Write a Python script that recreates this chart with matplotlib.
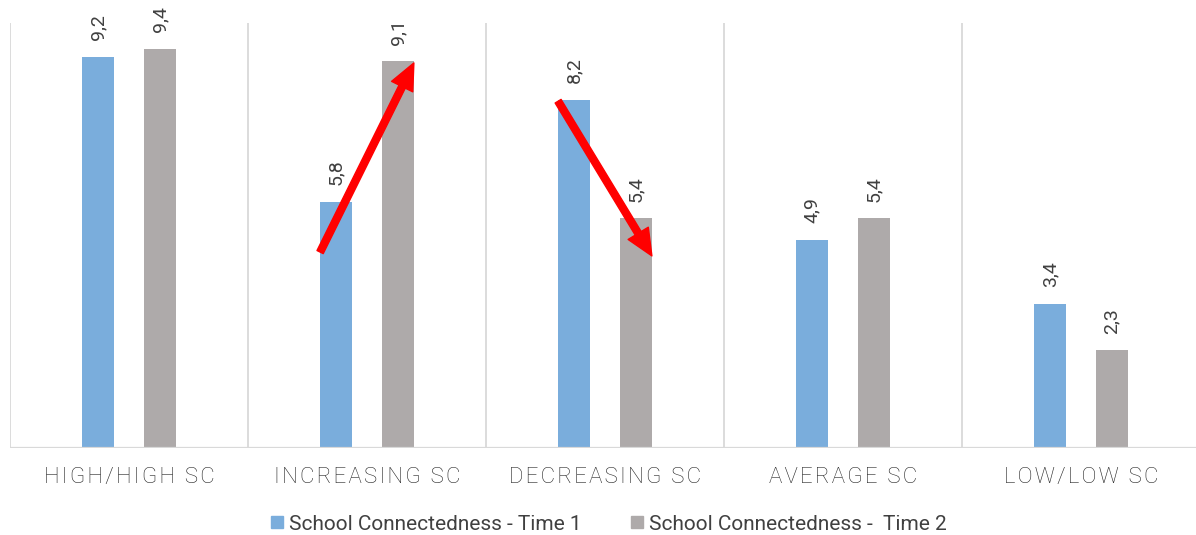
import matplotlib
matplotlib.use("Agg")
import matplotlib.pyplot as plt
import numpy as np
from matplotlib.patches import Patch, FancyArrowPatch, ArrowStyle

plt.rcParams['font.family'] = ['Roboto', 'DejaVu Sans']

# Data
categories = ["HIGH/HIGH SC", "INCREASING SC", "DECREASING SC", "AVERAGE SC", "LOW/LOW SC"]
time1 = [9.2, 5.8, 8.2, 4.9, 3.4]
time2 = [9.4, 9.1, 5.4, 5.4, 2.3]
series_names = ["School Connectedness - Time 1", "School Connectedness -  Time 2"]

BLUE = "#7AADDC"
GRAY = "#AEAAAA"
TEXT = "#404040"
GRID = "#D9D9D9"

W, H = 1196, 535
fig = plt.figure(figsize=(W / 100, H / 100), dpi=100)
ax = fig.add_axes([10 / W, (H - 448) / H, 1190 / W, 425 / H])

x = np.arange(len(categories))
bw = 0.134
off = 0.13
ax.bar(x - off, time1, width=bw, color=BLUE, zorder=2)
ax.bar(x + off, time2, width=bw, color=GRAY, zorder=2)

def fmt(v):
    return f"{v:.1f}".replace(".", ",")

for xs, vals in ((x - off, time1), (x + off, time2)):
    for xi, v in zip(xs, vals):
        ax.annotate(fmt(v), (xi, v), xytext=(0, 12), textcoords="offset points",
                    rotation=90, ha="center", va="bottom", fontsize=14,
                    color=TEXT)

ax.set_xlim(-0.5, len(categories) - 0.5)
ax.set_ylim(0, 10)
for b in np.arange(-0.5, len(categories), 1.0):
    ax.axvline(b, color=GRID, lw=1.3, zorder=1)
ax.axhline(0, color=GRID, lw=1.6, zorder=3)

for s in ax.spines.values():
    s.set_visible(False)
ax.set_yticks([])
ax.set_xticks(x)
spaced = ["\u200a".join(c) for c in categories]
ax.set_xticklabels(spaced, fontsize=16, color="#262626", fontweight="light")
ax.tick_params(axis="x", length=0, pad=14)

# Change arrows between the two time points
arrow_style = ArrowStyle.Simple(head_length=19, head_width=17, tail_width=5)
arrows = [((1 - off - bw / 2, 4.61), (1 + off + bw / 2, 9.06)),
          ((2 - off - bw / 2, 8.16), (2 + off + bw / 2, 4.52))]
for a, b in arrows:
    ax.add_patch(FancyArrowPatch(a, b, arrowstyle=arrow_style, mutation_scale=1,
                                 color="#FF0000", shrinkA=0, shrinkB=0, zorder=4))

handles = [Patch(color=BLUE), Patch(color=GRAY)]
fig.legend(handles, series_names, loc="center", bbox_to_anchor=(609 / W, 1 - 524 / H),
           ncol=2, frameon=False, handlelength=0.55, handleheight=0.55,
           handletextpad=0.3, columnspacing=2.4, labelcolor=TEXT,
           prop={"size": 15})

fig.savefig("out.png", dpi=100)
